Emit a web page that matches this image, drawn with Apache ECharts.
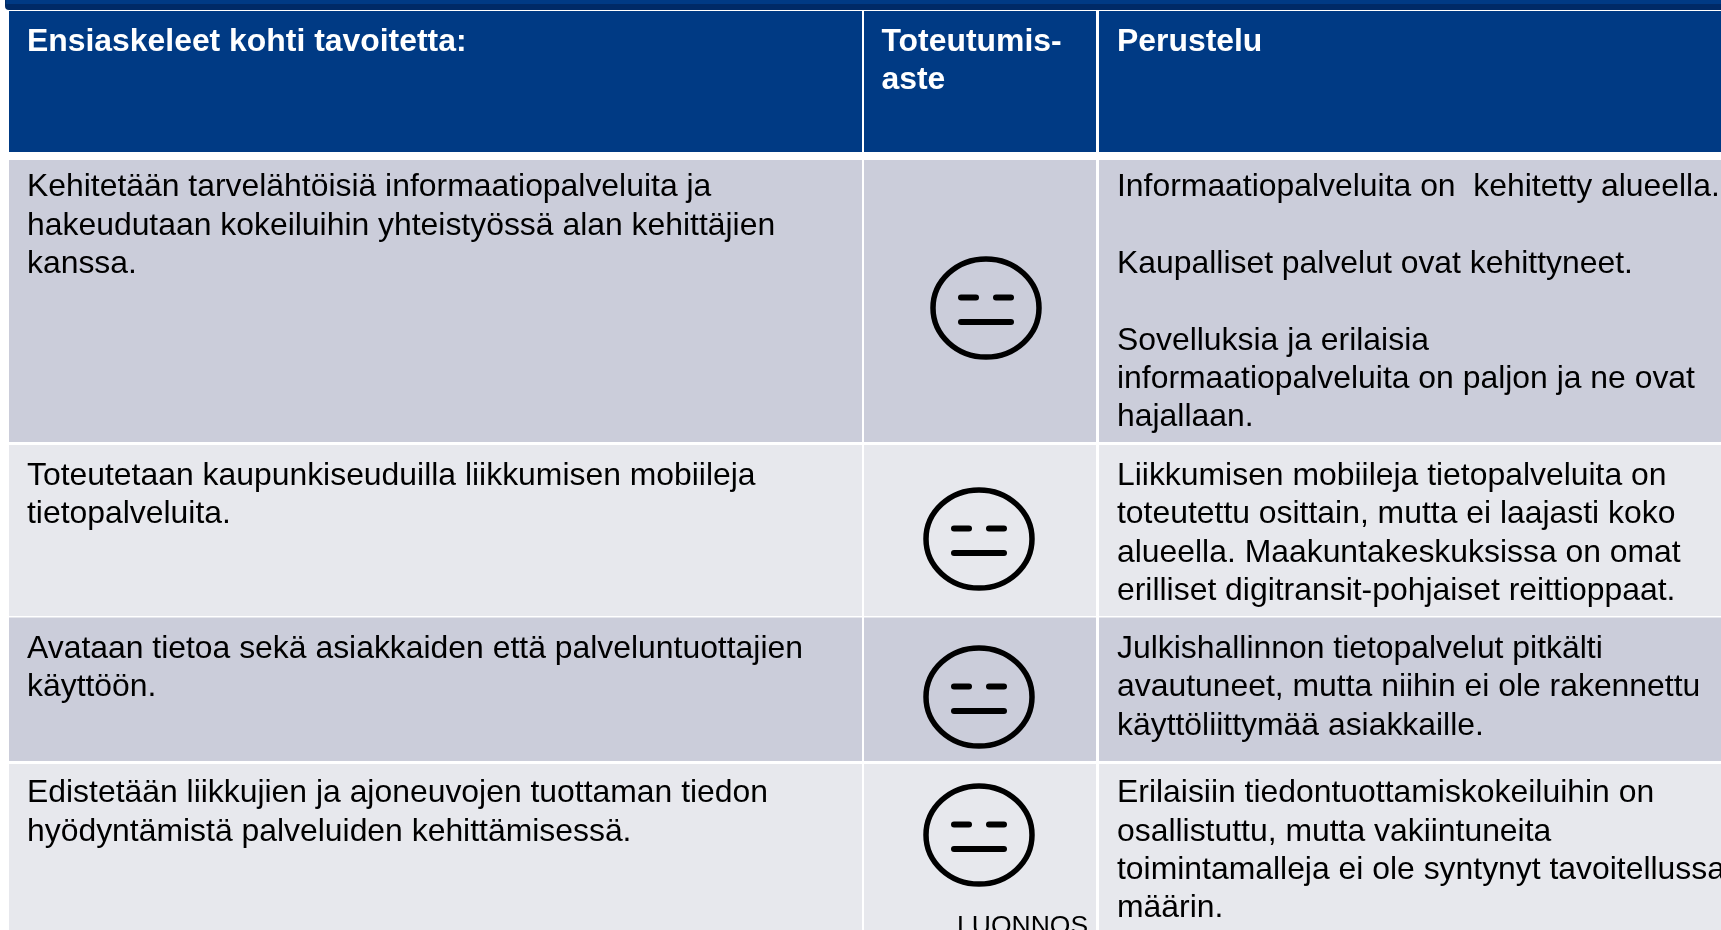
<!DOCTYPE html>
<html><head><meta charset="utf-8">
<style>html,body{margin:0;padding:0;background:#fff}#c{width:1721px;height:930px}</style>
<script src="https://cdn.jsdelivr.net/npm/echarts@6/dist/echarts.min.js"></script>
</head><body><div id="c"></div>
<script>
const headers = ["Ensiaskeleet kohti tavoitetta:", "Toteutumis-\naste", "Perustelu"];
const steps = [
 "Kehitetään tarvelähtöisiä informaatiopalveluita ja\nhakeudutaan kokeiluihin yhteistyössä alan kehittäjien\nkanssa.",
 "Toteutetaan kaupunkiseuduilla liikkumisen mobiileja\ntietopalveluita.",
 "Avataan tietoa sekä asiakkaiden että palveluntuottajien\nkäyttöön.",
 "Edistetään liikkujien ja ajoneuvojen tuottaman tiedon\nhyödyntämistä palveluiden kehittämisessä."
];
const reasons = [
 "Informaatiopalveluita on  kehitetty alueella.\n\nKaupalliset palvelut ovat kehittyneet.\n\nSovelluksia ja erilaisia\ninformaatiopalveluita on paljon ja ne ovat\nhajallaan.",
 "Liikkumisen mobiileja tietopalveluita on\ntoteutettu osittain, mutta ei laajasti koko\nalueella. Maakuntakeskuksissa on omat\nerilliset digitransit-pohjaiset reittioppaat.",
 "Julkishallinnon tietopalvelut pitkälti\navautuneet, mutta niihin ei ole rakennettu\nkäyttöliittymää asiakkaille.",
 "Erilaisiin tiedontuottamiskokeiluihin on\nosallistuttu, mutta vakiintuneita\ntoimintamalleja ei ole syntynyt tavoitellussa\nmäärin."
];
const ratings = ["neutraali", "neutraali", "neutraali", "neutraali"];
const stamp = "LUONNOS";

// layout
const colX = [[9,862],[864,1096],[1099,1721]];
const textX = [27,881.5,1117];
const headY = [11,152];
const rowY = [[160,442],[445,616],[617.5,761],[764,930]];
const rowFill = ["#CBCDDA","#E7E8ED","#CBCDDA","#E7E8ED"];
const textTop = [168.5,457,630,774.5];
const faceC = [[986,308],[979,539],[979,697],[979,835]];
const LH = 38.3, FS = 31.9;
const FONT = '"Liberation Sans", Arial, sans-serif';

const cells = [];
headers.forEach((t,c)=>cells.push({kind:"head",c,t}));
steps.forEach((t,r)=>{
  cells.push({kind:"cell",c:0,r,t});
  cells.push({kind:"face",c:1,r,t:ratings[r]});
  cells.push({kind:"cell",c:2,r,t:reasons[r]});
});

function renderItem(params, api){
  const d = cells[params.dataIndex];
  const P = (x,y)=>api.coord([x,y]);
  const rect=(x0,y0,x1,y1,fill)=>{const a=P(x0,y0),b=P(x1,y1);
    return {type:"rect",shape:{x:a[0],y:a[1],width:b[0]-a[0],height:b[1]-a[1]},style:{fill}};};
  const text=(x,y,t,o)=>{const a=P(x,y);
    return {type:"text",x:a[0],y:a[1],style:Object.assign({text:t,fill:"#000",font:`${FS}px ${FONT}`,lineHeight:LH,verticalAlign:"top"},o||{})};};
  if(d.kind==="head"){
    const [x0,x1]=colX[d.c];
    return {type:"group",children:[rect(x0,headY[0],x1,headY[1],"#003A84"),
      text(textX[d.c],23,d.t,{fill:"#fff",font:`bold ${FS}px ${FONT}`})]};
  }
  const [x0,x1]=colX[d.c],[y0,y1]=rowY[d.r];
  const bg=rect(x0,y0,x1,y1,rowFill[d.r]);
  if(d.kind==="cell") return {type:"group",children:[bg,text(textX[d.c],textTop[d.r],d.t)]};
  const [cx,cy]=faceC[d.r], c=P(cx,cy);
  const ln=(a,b,y)=>{const s=P(cx+a,cy+y),e=P(cx+b,cy+y);
    return {type:"line",shape:{x1:s[0],y1:s[1],x2:e[0],y2:e[1]},style:{stroke:"#000",lineWidth:6,lineCap:"round"}};};
  const kids=[bg,
    {type:"ellipse",shape:{cx:c[0],cy:c[1],rx:53,ry:49},style:{fill:"none",stroke:"#000",lineWidth:5.5}},
    ln(-25,-10,-10.5),ln(10,25,-10.5),ln(-25,25,14)];
  if(d.r===3) kids.push(text(957,912,stamp,{font:`26.5px ${FONT}`,lineHeight:30}));
  return {type:"group",children:kids};
}

const chart = echarts.init(document.getElementById("c"),null,{renderer:"canvas"});
chart.setOption({
  animation:false,
  backgroundColor:"#fff",
  grid:{left:0,right:0,top:0,bottom:0},
  xAxis:{type:"value",min:0,max:1721,show:false},
  yAxis:{type:"value",min:0,max:930,inverse:true,show:false},
  graphic:[
   {type:"rect",shape:{x:5,y:0,width:1716,height:10,r:[0,0,0,4]},style:{fill:"#002A66"},z:10},
   {type:"rect",shape:{x:6,y:0,width:1715,height:4},style:{fill:"#003A84"},z:11}
  ],
  series:[{type:"custom",coordinateSystem:"cartesian2d",clip:false,silent:true,
    data:cells.map((d,i)=>[i,0]),encode:{x:0,y:1},renderItem}]
});
</script></body></html>
